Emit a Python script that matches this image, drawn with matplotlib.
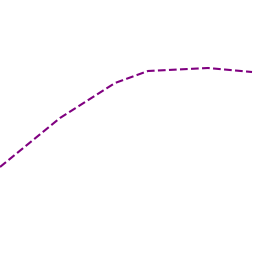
import matplotlib
matplotlib.use('Agg')
import matplotlib.pyplot as plt

# points
xs = [0, 60, 115, 148, 208, 252]
ys = [89, 138, 173, 185, 188, 184]

fig = plt.figure(figsize=(2.56, 2.56), dpi=100)
ax = fig.add_axes([0, 0, 1, 1])
ax.plot(xs, ys, linestyle='--', color='#800080', linewidth=1.5)
ax.set_xlim(0, 256)
ax.set_ylim(0, 256)
ax.axis('off')

fig.savefig('out.png', dpi=100)
